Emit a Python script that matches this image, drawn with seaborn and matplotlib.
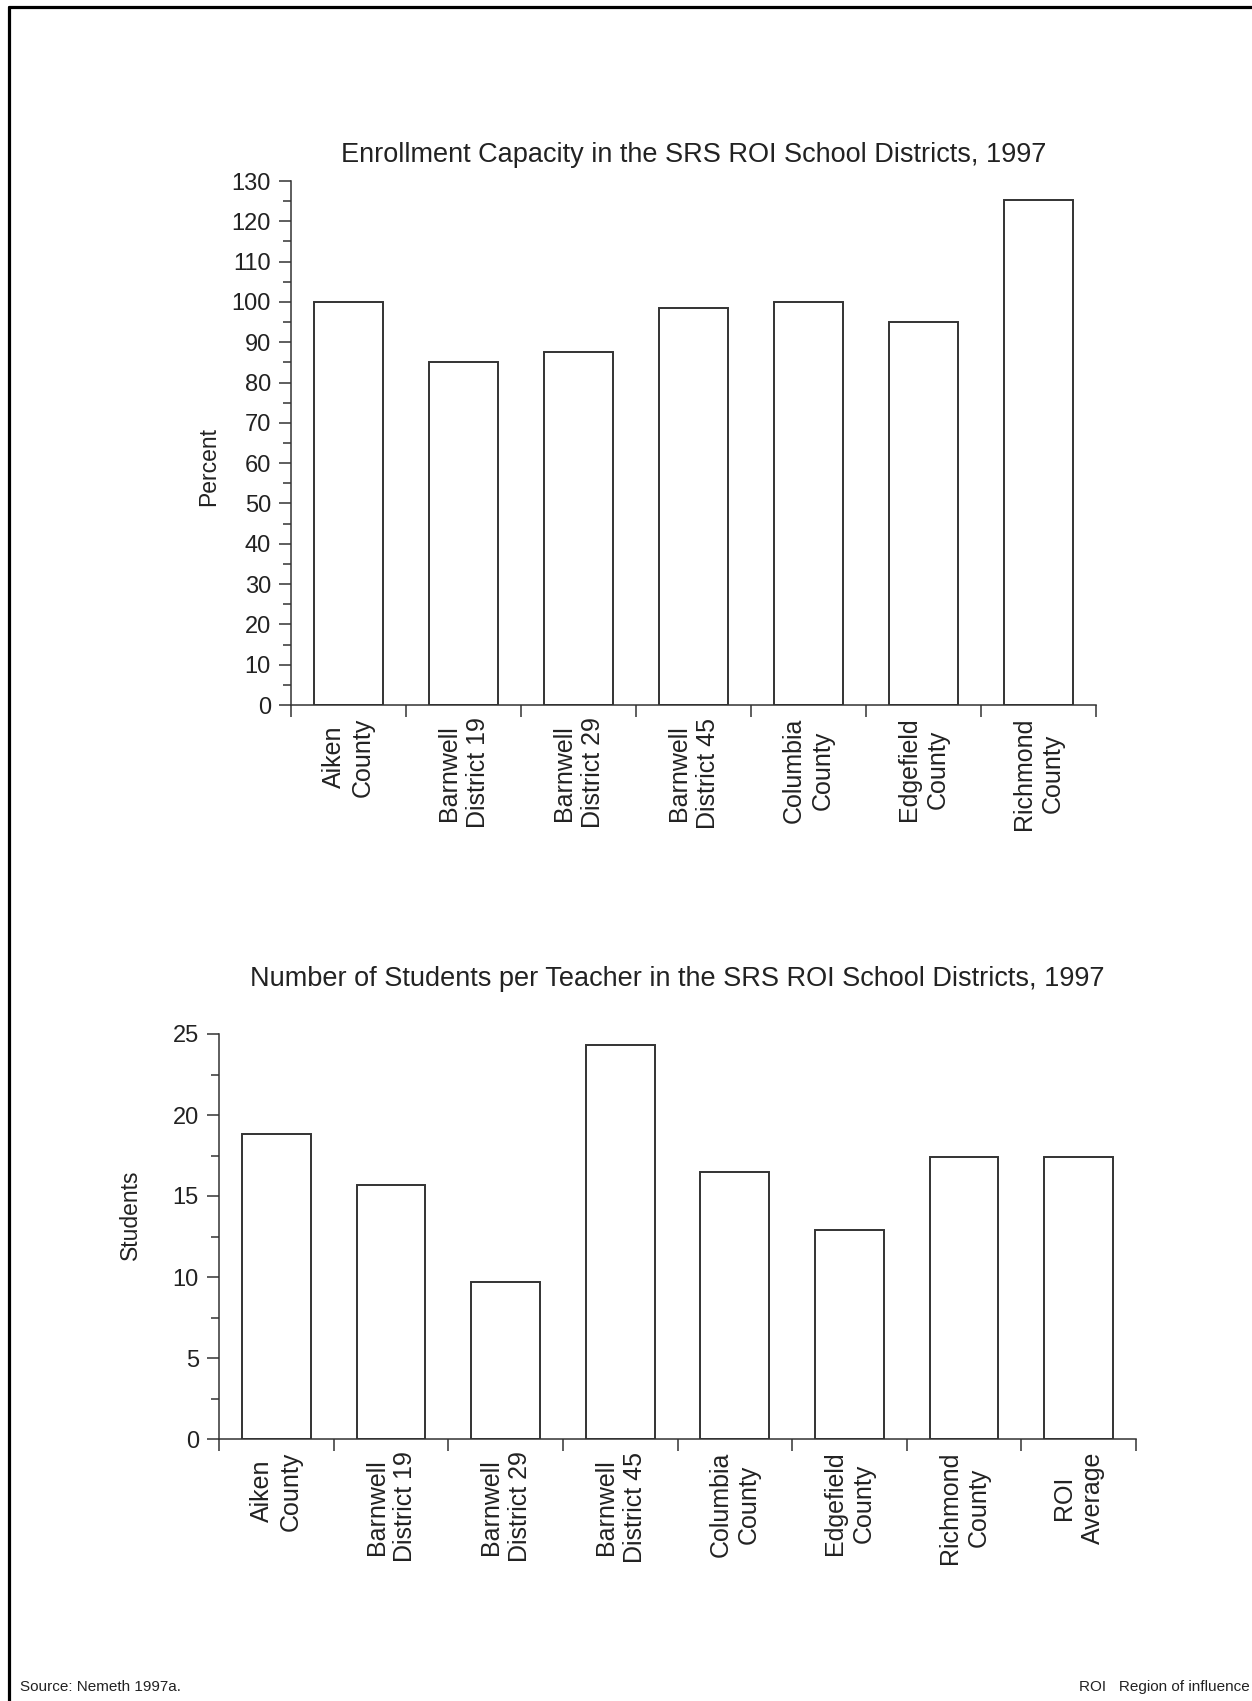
import numpy as np
import pandas as pd
import matplotlib
matplotlib.use("Agg")
import matplotlib.pyplot as plt
from matplotlib.lines import Line2D
import seaborn as sns

# enrollment capacity (percent)
cap_labels = ["Aiken\nCounty", "Barnwell\nDistrict 19", "Barnwell\nDistrict 29",
              "Barnwell\nDistrict 45", "Columbia\nCounty", "Edgefield\nCounty",
              "Richmond\nCounty"]
cap_values = [100.0, 85.1, 87.5, 98.5, 100.1, 95.1, 125.2]

# students per teacher
spt_labels = cap_labels + ["ROI\nAverage"]
spt_values = [18.8, 15.7, 9.7, 24.3, 16.5, 12.9, 17.4, 17.4]

sns.set_style("ticks")
plt.rcParams['font.family'] = ['Liberation Sans', 'DejaVu Sans']
plt.rcParams['axes.linewidth'] = 1.1

W, H = 1252, 1701
fig = plt.figure(figsize=(W / 100, H / 100), dpi=100)


def make_axes(x0, x1, ytop, ybot):
    return fig.add_axes([x0 / W, 1 - ybot / H, (x1 - x0) / W, (ybot - ytop) / H])


def draw(ax, labels, values, ymax, major, minor):
    df = pd.DataFrame({"cat": labels, "val": values})
    sns.barplot(data=df, x="cat", y="val", ax=ax, color="white",
                edgecolor="#333333", linewidth=1.4, width=0.6)
    n = len(labels)
    ax.set_xlim(-0.5, n - 0.5)
    ax.set_ylim(0, ymax)
    ax.set_yticks(np.arange(0, ymax + 0.01, major))
    ax.set_yticks(np.arange(0, ymax + 0.01, minor), minor=True)
    ax.set_xticks(np.arange(-0.5, n), minor=True)
    ax.tick_params(axis="x", which="major", length=0, pad=9)
    ax.tick_params(axis="x", which="minor", length=8.5, width=1.1, color="#333333")
    ax.tick_params(axis="y", which="major", length=8.5, width=1.1, pad=6,
                   labelsize=17, color="#333333", labelcolor="#222222")
    ax.tick_params(axis="y", which="minor", length=6, width=1.1, color="#333333")
    ax.set_xticks(range(n))
    ax.set_xticklabels(labels, rotation=90, ha="center", va="top",
                       fontsize=18, linespacing=1.25, color="#222222",
                       multialignment="center")
    ax.set_xlabel("")
    ax.set_ylabel("")
    sns.despine(ax=ax)
    for s in ("left", "bottom"):
        ax.spines[s].set_color("#333333")


ax1 = make_axes(291, 1096, 181, 705)
draw(ax1, cap_labels, cap_values, 130, 10, 5)
fig.text(694 / W, 1 - 155 / H, "Enrollment Capacity in the SRS ROI School Districts, 1997",
         ha="center", va="center", fontsize=19.5, color="#222222")
fig.text(209 / W, 1 - 467 / H, "Percent", rotation=90, ha="center", va="center",
         fontsize=16.5, color="#222222")

ax2 = make_axes(219, 1136, 1034, 1439)
draw(ax2, spt_labels, spt_values, 25, 5, 2.5)
fig.text(677 / W, 1 - 979 / H,
         "Number of Students per Teacher in the SRS ROI School Districts, 1997",
         ha="center", va="center", fontsize=19.5, color="#222222")
fig.text(130 / W, 1 - 1215 / H, "Students", rotation=90, ha="center", va="center",
         fontsize=16.5, color="#222222")

# footer
fig.text(20 / W, 1 - 1687 / H, "Source: Nemeth 1997a.", ha="left", va="center",
         fontsize=11, color="#222222")
fig.text(1250 / W, 1 - 1687 / H, "ROI   Region of influence", ha="right", va="center",
         fontsize=11, color="#222222")

# page frame (top and left edges)
fig.add_artist(Line2D([8.5 / W, 1], [1 - 7.5 / H, 1 - 7.5 / H], color="black",
                      linewidth=2.3, transform=fig.transFigure))
fig.add_artist(Line2D([8.5 / W, 8.5 / W], [0, 1 - 7.5 / H], color="black",
                      linewidth=2.3, transform=fig.transFigure))

fig.savefig("out.png", dpi=100, facecolor="white")
